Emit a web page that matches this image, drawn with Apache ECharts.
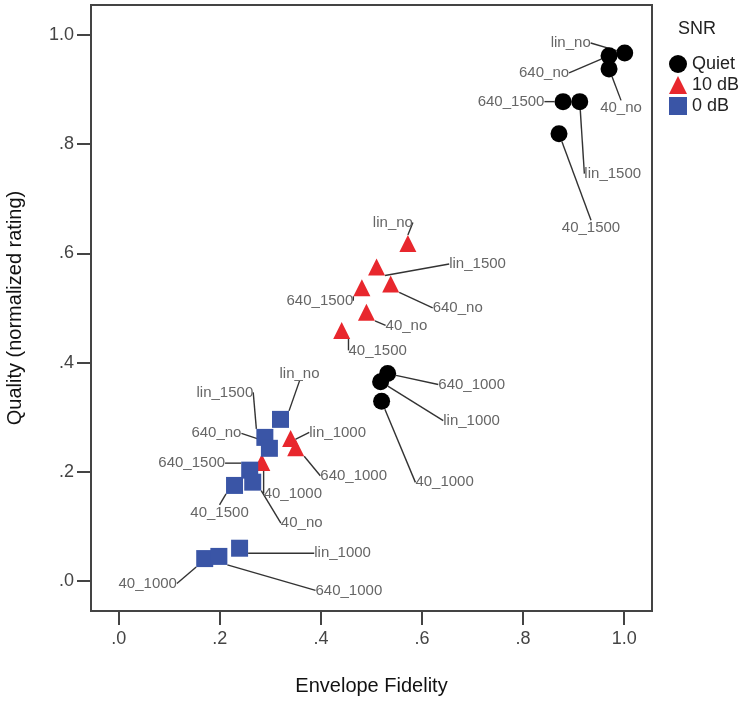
<!DOCTYPE html>
<html>
<head>
<meta charset="utf-8">
<script src="https://cdn.jsdelivr.net/npm/echarts@6/dist/echarts.min.js"></script>
<style>
  html, body { margin: 0; padding: 0; background: #fff; }
  #chart { width: 756px; height: 702px; }
</style>
</head>
<body>
<div id="chart"></div>
<script>
// ---- Data ----
const seriesNames = ['Quiet', '10 dB', '0 dB'];
const tickValues = [0, 0.2, 0.4, 0.6, 0.8, 1.0];
const tickLabels = ['.0', '.2', '.4', '.6', '.8', '1.0'];

const quietLabels = ['lin_no', '640_no', '40_no', '640_1500', 'lin_1500', '40_1500', '640_1000', 'lin_1000', '40_1000'];
const quietX = [1.001, 0.970, 0.970, 0.879, 0.912, 0.871, 0.532, 0.518, 0.520];
const quietY = [0.967, 0.962, 0.938, 0.878, 0.878, 0.819, 0.380, 0.365, 0.329];

const db10Labels = ['lin_no', 'lin_1500', '640_1500', '640_no', '40_no', '40_1500', 'lin_1000', '640_1000', '40_1000'];
const db10X = [0.572, 0.510, 0.481, 0.538, 0.490, 0.441, 0.340, 0.350, 0.283];
const db10Y = [0.618, 0.575, 0.537, 0.544, 0.492, 0.459, 0.261, 0.244, 0.217];

const db0Labels = ['lin_no', 'lin_1500', '640_no', '640_1500', '40_no', '40_1500', '40_1000', '640_1000', 'lin_1000'];
const db0X = [0.320, 0.289, 0.298, 0.259, 0.265, 0.229, 0.170, 0.198, 0.239];
const db0Y = [0.296, 0.263, 0.243, 0.203, 0.181, 0.175, 0.041, 0.045, 0.060];

// label offsets (pixels, label centre relative to marker centre)
const quietOffsets = [[-54,-10],[-65,17],[12,39],[-52,0],[33,72],[32,94],[84,11],[91,39],[63,81]];
const db10Offsets = [[-15,-21],[101,-3],[-42,13],[67,24],[40,13],[36,20],[47,-6],[58,28],[31,31]];
const db0Offsets = [[19,-46],[-40,-45],[-53,-15],[-58,-7],[49,41],[-15,27],[-57,25],[130,34],[103,5]];

const offsets = [quietOffsets, db10Offsets, db0Offsets];

function pts(xs, ys, names) {
  return xs.map((x, i) => ({ value: [x, ys[i]], name: names[i] }));
}

const FONT = "'Liberation Sans', Arial, sans-serif";

const labelCommon = {
  show: true,
  position: 'inside',
  formatter: p => p.name,
  color: '#666',
  fontSize: 15,
  fontFamily: FONT,
  align: 'center',
  verticalAlign: 'middle'
};
const labelLineCommon = {
  show: true,
  lineStyle: { color: '#333', width: 1.4 }
};

function mkSeries(idx, symbol, size, color, data) {
  return {
    name: seriesNames[idx],
    type: 'scatter',
    symbol: symbol,
    symbolSize: size,
    itemStyle: { color: color, opacity: 1 },
    data: data,
    label: labelCommon,
    labelLine: labelLineCommon,
    emphasis: { disabled: true },
    labelLayout: function (params) {
      const o = offsets[idx][params.dataIndex];
      return { dx: o[0], dy: o[1] };
    }
  };
}

const chart = echarts.init(document.getElementById('chart'), null, { renderer: 'canvas' });

const axisCommon = {
  type: 'value',
  min: -0.055,
  max: 1.055,
  splitLine: { show: false },
  axisLine: { show: true, onZero: false, lineStyle: { color: '#444', width: 2 } },
  axisTick: {
    show: true, inside: false, length: 14,
    customValues: tickValues,
    lineStyle: { color: '#444', width: 2 }
  },
  axisLabel: {
    customValues: tickValues,
    formatter: v => {
      const i = tickValues.findIndex(t => Math.abs(t - v) < 1e-6);
      return i >= 0 ? tickLabels[i] : '';
    },
    color: '#444',
    fontSize: 18,
    fontFamily: FONT
  },
  nameLocation: 'middle',
  nameTextStyle: { color: '#111', fontSize: 20, fontFamily: FONT }
};

chart.setOption({
  animation: false,
  backgroundColor: '#fff',
  title: {
    text: 'SNR',
    left: 673,
    top: 15,
    textStyle: { color: '#222', fontSize: 18, fontWeight: 'normal', fontFamily: FONT }
  },
  legend: {
    orient: 'vertical',
    left: 669,
    top: 55,
    itemWidth: 18,
    itemHeight: 18,
    itemGap: 3,
    data: seriesNames,
    textStyle: { color: '#222', fontSize: 18, fontFamily: FONT },
    padding: 0,
    selectedMode: false
  },
  grid: {
    left: 91, right: 104, top: 5, bottom: 91,
    show: true,
    borderColor: '#444',
    borderWidth: 2,
    containLabel: false,
    outerBoundsMode: 'none'
  },
  xAxis: Object.assign({}, axisCommon, {
    name: 'Envelope Fidelity',
    nameGap: 65,
    axisLabel: Object.assign({}, axisCommon.axisLabel, { margin: 19 })
  }),
  yAxis: Object.assign({}, axisCommon, {
    name: 'Quality (normalized rating)',
    nameGap: 66,
    axisLabel: Object.assign({}, axisCommon.axisLabel, { margin: 17 })
  }),
  series: [
    mkSeries(0, 'circle', 17, '#000000', pts(quietX, quietY, quietLabels)),
    mkSeries(1, 'triangle', 17, '#E8272D', pts(db10X, db10Y, db10Labels)),
    mkSeries(2, 'rect', 17, '#3A55A6', pts(db0X, db0Y, db0Labels))
  ]
});
</script>
</body>
</html>
